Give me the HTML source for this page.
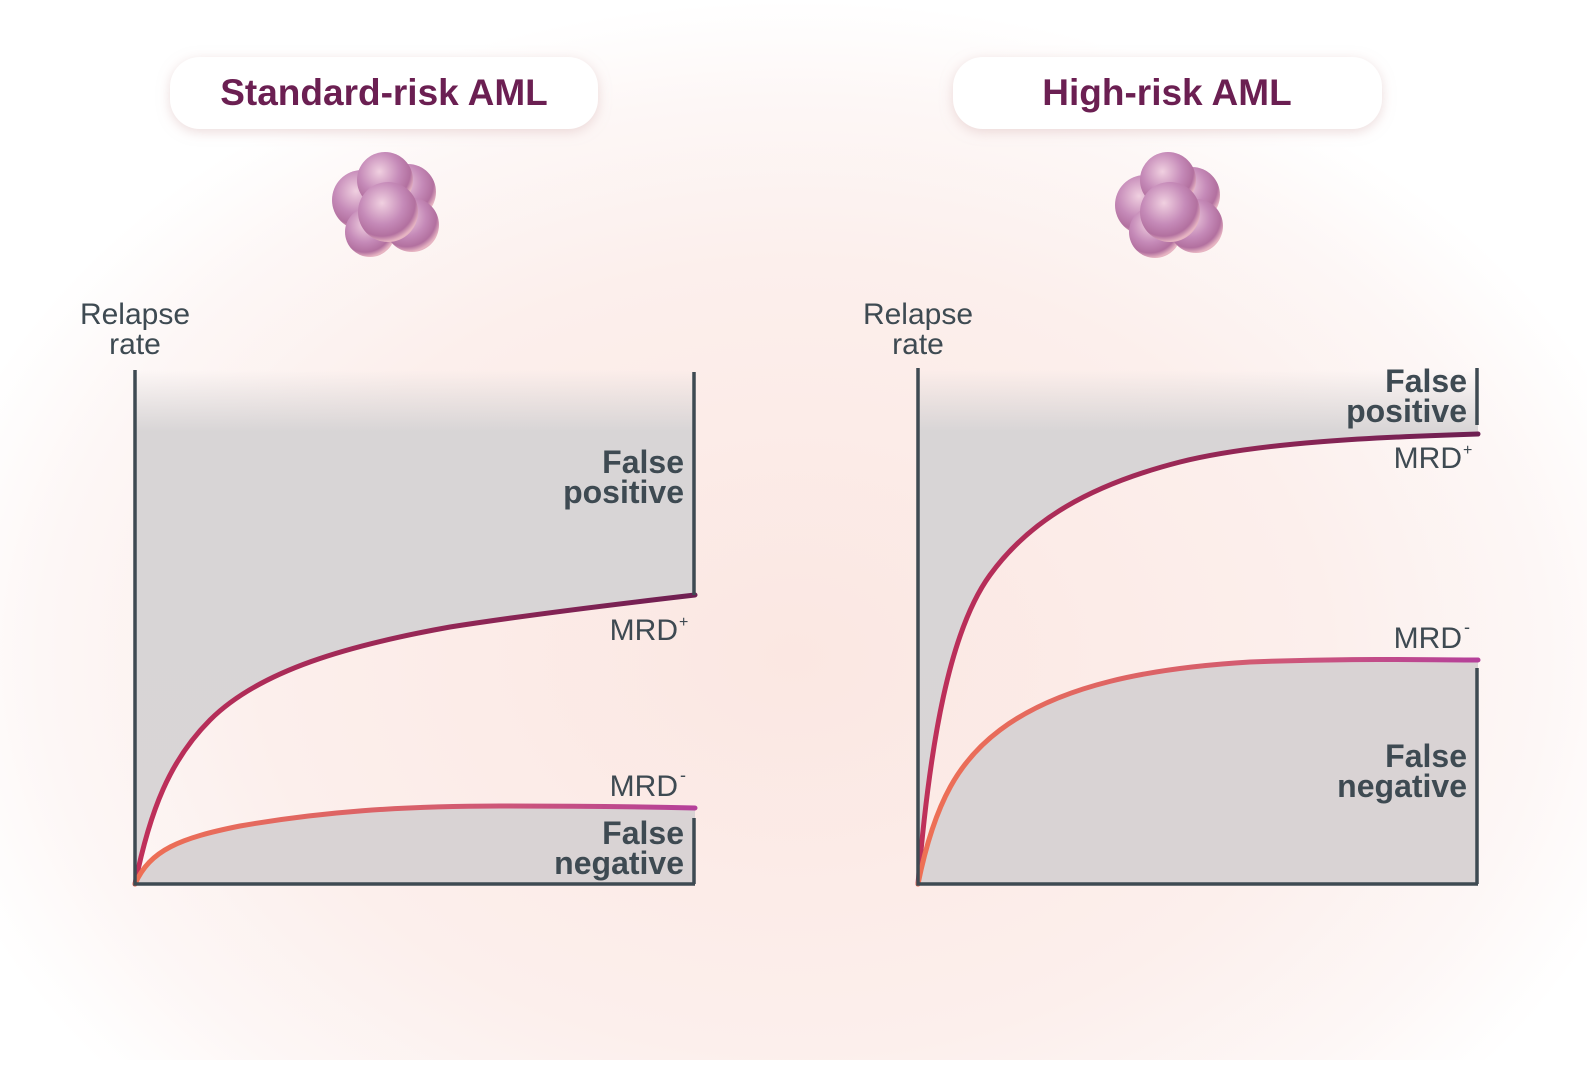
<!DOCTYPE html>
<html><head><meta charset="utf-8"><style>
html,body{margin:0;padding:0}
body{width:1587px;height:1060px;overflow:hidden;background:#fff;font-family:"Liberation Sans",sans-serif}
</style></head><body>
<svg width="1587" height="1060" viewBox="0 0 1587 1060" xmlns="http://www.w3.org/2000/svg">
<defs>
<radialGradient id="bg" cx="50%" cy="62%" r="62%" gradientTransform="translate(0.05 0) scale(0.9 1)">
<stop offset="0" stop-color="#fbe7e2"/>
<stop offset="0.6" stop-color="#fcefec"/>
<stop offset="0.85" stop-color="#fdf7f6"/>
<stop offset="1" stop-color="#ffffff"/>
</radialGradient>
<linearGradient id="grey" x1="0" y1="0" x2="0" y2="1">
<stop offset="0" stop-color="#d8d5d6" stop-opacity="0"/>
<stop offset="0.12" stop-color="#d8d5d6" stop-opacity="1"/>
<stop offset="1" stop-color="#d9d5d6"/>
</linearGradient>
<linearGradient id="pos" x1="0" x2="1"><stop offset="0" stop-color="#c0305a"/><stop offset="1" stop-color="#6e1f52"/></linearGradient>
<linearGradient id="neg" x1="0" x2="1"><stop offset="0" stop-color="#ee7055"/><stop offset="0.5" stop-color="#d8606a"/><stop offset="1" stop-color="#b5409a"/></linearGradient>
<radialGradient id="cell" cx="40%" cy="35%" r="65%"><stop offset="0" stop-color="#f0d0e0"/><stop offset="0.55" stop-color="#c58ab8"/><stop offset="0.85" stop-color="#b2709f"/><stop offset="1" stop-color="#e6b4c2"/></radialGradient>
<filter id="sh" x="-20%" y="-40%" width="140%" height="180%"><feDropShadow dx="0" dy="3" stdDeviation="6" flood-color="#d9b8b8" flood-opacity="0.5"/></filter>
</defs>
<rect width="1587" height="1060" fill="url(#bg)"/>

<!-- titles -->
<rect x="170" y="57" width="428" height="72" rx="30" fill="#fff" filter="url(#sh)"/>
<text x="384" y="105" text-anchor="middle" font-size="37" font-weight="bold" fill="#6b1f52">Standard-risk AML</text>
<rect x="953" y="57" width="429" height="72" rx="30" fill="#fff" filter="url(#sh)"/>
<text x="1167" y="105" text-anchor="middle" font-size="37" font-weight="bold" fill="#6b1f52">High-risk AML</text>

<!-- cells -->
<g>
<circle cx="362" cy="200" r="30" fill="url(#cell)"/>
<circle cx="408" cy="192" r="28" fill="url(#cell)"/>
<circle cx="370" cy="232" r="25" fill="url(#cell)"/>
<circle cx="412" cy="225" r="27" fill="url(#cell)"/>
<circle cx="385" cy="180" r="28" fill="url(#cell)"/>
<circle cx="388" cy="212" r="30" fill="url(#cell)"/>
</g>
<g>
<circle cx="1145" cy="205" r="30" fill="url(#cell)"/>
<circle cx="1192" cy="195" r="28" fill="url(#cell)"/>
<circle cx="1155" cy="232" r="26" fill="url(#cell)"/>
<circle cx="1196" cy="226" r="27" fill="url(#cell)"/>
<circle cx="1168" cy="180" r="28" fill="url(#cell)"/>
<circle cx="1170" cy="212" r="30" fill="url(#cell)"/>
</g>

<g font-size="30" fill="#3e4a52" text-anchor="middle">
<text x="135" y="324">Relapse</text><text x="135" y="354">rate</text>
<text x="918" y="324">Relapse</text><text x="918" y="354">rate</text>
</g>

<!-- left chart -->
<path d="M135,370 L695,370 L695,595 C600,606 520,616 450,627 C350,645 260,670 210,720 C170,760 150,810 135,884 Z" fill="url(#grey)"/>
<path d="M135,884 C150,850 180,838 240,826 C320,812 400,806 500,806 C580,806 650,807 695,808 L695,884 Z" fill="#d9d3d4"/>
<path d="M135,884 C150,810 170,760 210,720 C260,670 350,645 450,627 C520,616 600,606 695,595" fill="none" stroke="url(#pos)" stroke-width="5" stroke-linecap="round"/>
<path d="M135,884 C150,850 180,838 240,826 C320,812 400,806 500,806 C580,806 650,807 695,808" fill="none" stroke="url(#neg)" stroke-width="5" stroke-linecap="round"/>
<path d="M135,370 L135,884 L695,884 M694,372 L694,595 M694,818 L694,884" fill="none" stroke="#3e4a52" stroke-width="3.5"/>
<g font-size="32" font-weight="bold" fill="#3e4a52" text-anchor="end">
<text x="684" y="473">False</text><text x="684" y="503">positive</text>
<text x="684" y="844">False</text><text x="684" y="874">negative</text>
</g>
<g font-size="30" fill="#3e4a52" text-anchor="end">
<text x="678" y="640">MRD</text><text x="678" y="796">MRD</text>
</g>
<text x="679" y="627" font-size="16" fill="#3e4a52">+</text>
<text x="680" y="781" font-size="18" fill="#3e4a52">-</text>

<!-- right chart -->
<path d="M918,370 L1478,370 L1478,434 C1380,437 1260,442 1180,462 C1090,485 1030,520 990,575 C950,630 930,740 918,884 Z" fill="url(#grey)"/>
<path d="M918,884 C935,800 960,760 1000,730 C1060,685 1150,668 1250,662 C1350,658 1420,660 1478,660 L1478,884 Z" fill="#d9d3d4"/>
<path d="M918,884 C930,740 950,630 990,575 C1030,520 1090,485 1180,462 C1260,442 1380,437 1478,434" fill="none" stroke="url(#pos)" stroke-width="5" stroke-linecap="round"/>
<path d="M918,884 C935,800 960,760 1000,730 C1060,685 1150,668 1250,662 C1350,658 1420,660 1478,660" fill="none" stroke="url(#neg)" stroke-width="5" stroke-linecap="round"/>
<path d="M918,368 L918,884 L1478,884 M1477,368 L1477,425 M1477,668 L1477,884" fill="none" stroke="#3e4a52" stroke-width="3.5"/>
<g font-size="32" font-weight="bold" fill="#3e4a52" text-anchor="end">
<text x="1467" y="392">False</text><text x="1467" y="422">positive</text>
<text x="1467" y="767">False</text><text x="1467" y="797">negative</text>
</g>
<g font-size="30" fill="#3e4a52" text-anchor="end">
<text x="1462" y="468">MRD</text><text x="1462" y="648">MRD</text>
</g>
<text x="1463" y="455" font-size="16" fill="#3e4a52">+</text>
<text x="1464" y="633" font-size="18" fill="#3e4a52">-</text>
</svg>
</body></html>
